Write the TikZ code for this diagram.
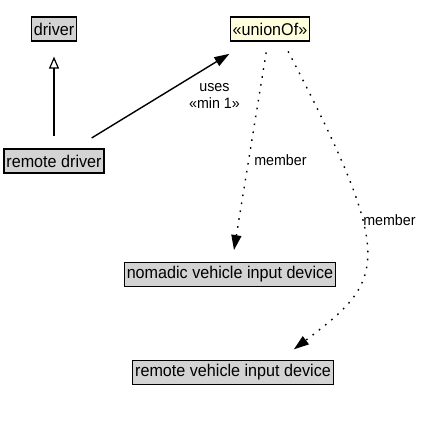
\documentclass[tikz,border=0pt]{standalone}
\usepackage{fontspec}
\setmainfont{Liberation Sans}[FakeStretch=0.95]
\usetikzlibrary{arrows.meta}
\definecolor{boxgray}{RGB}{211,211,211}
\definecolor{unionfill}{RGB}{255,255,221}
\tikzset{
	klass/.style={draw, fill=boxgray, inner xsep=2.5pt, inner ysep=0pt, minimum height=24pt, font=\fontsize{17}{19}\selectfont},
	lbl/.style={inner sep=0pt, font=\fontsize{15}{17}\selectfont},
	dotline/.style={dash pattern=on 1.6pt off 6.4pt, line width=1.4pt},
	tipfill/.style={-{Triangle[length=15pt,width=10pt]}}
}

\begin{document}
\begin{tikzpicture}[x=1pt, y=-1pt, line width=1.2pt]
		\useasboundingbox (0,0) rectangle (421,423);

		\foreach \name/\x/\y/\txt in {drv/54/29/driver, rdrv/54/161/remote driver, nomad/230/274.5/nomadic vehicle input device, rvid/233/372.5/remote vehicle input device} {
			\node[klass] (\name) at (\x,\y) {\txt};
		}
		\node[klass, fill=unionfill] (union) at (270,29) {«unionOf»};

		\draw[-{Triangle[open,length=12pt,width=10pt]}, shorten <=12pt, shorten >=15pt] (rdrv) -- (drv);
		\draw[tipfill, line width=1.4pt, shorten <=20pt, shorten >=23.5pt] (rdrv) -- (union)
			node[lbl, pos=0.8, below=20pt, align=center] {uses\\«min 1»};
		\draw[dotline, tipfill, shorten <=11pt, shorten >=12pt] (union) -- (nomad)
			node[lbl, pos=0.54, right=5pt] {member};
		\draw[dotline, tipfill, shorten <=11pt, shorten >=17.5pt] ([xshift=13pt]union.south)
			.. controls (398,262) and (385,280) .. ([xshift=47pt]rvid.north)
			node[lbl, pos=0.38, right=2pt] {member};
	\end{tikzpicture}
\end{document}
